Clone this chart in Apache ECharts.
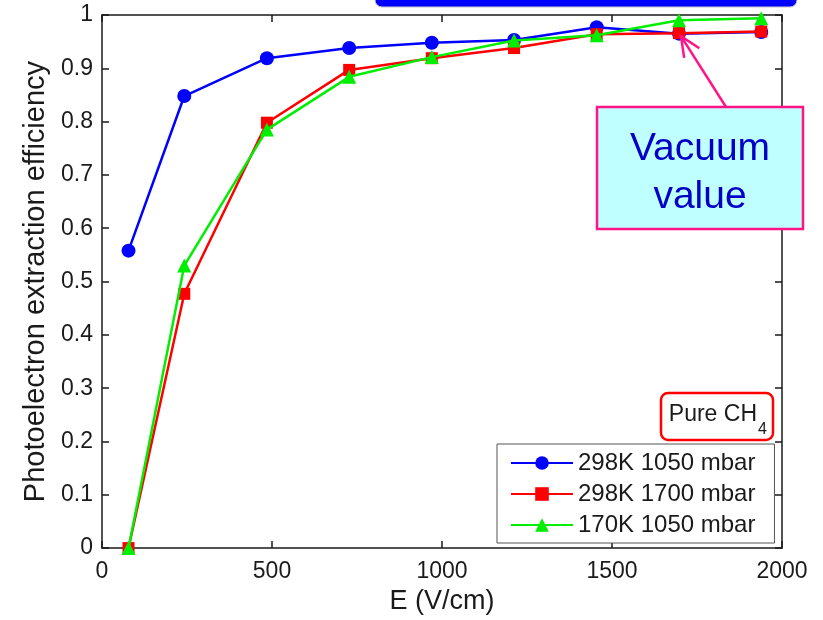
<!DOCTYPE html>
<html>
<head>
<meta charset="utf-8">
<script src="https://cdn.jsdelivr.net/npm/echarts@6/dist/echarts.min.js"></script>
<style>html,body{margin:0;padding:0;background:#fff}#c{width:823px;height:620px}</style>
</head>
<body>
<div id="c"></div>
<script>
// ---- data ----
var fieldE = [78, 242, 485, 727, 970, 1212, 1455, 1697, 1939];
var eff298K1050 = [0.558, 0.848, 0.919, 0.938, 0.948, 0.953, 0.977, 0.965, 0.968];
var eff298K1700 = [0, 0.477, 0.798, 0.897, 0.919, 0.938, 0.964, 0.966, 0.969];
var eff170K1050 = [0, 0.530, 0.785, 0.884, 0.921, 0.952, 0.962, 0.990, 0.994];
var seriesNames = ['298K 1050 mbar', '298K 1700 mbar', '170K 1050 mbar'];
var xTicks = [0, 500, 1000, 1500, 2000];
var yTicks = [0, 0.1, 0.2, 0.3, 0.4, 0.5, 0.6, 0.7, 0.8, 0.9, 1];

function pairs(xs, ys) { return xs.map(function (x, i) { return [x, ys[i]]; }); }

var FONT = 'Liberation Sans, Arial, Helvetica, sans-serif';
var chart = echarts.init(document.getElementById('c'), null, {renderer: 'canvas'});

var axisLine = {show: true, onZero: false, lineStyle: {color: '#1a1a1a', width: 1.5}};
var tick = {show: true, inside: true, length: 7, lineStyle: {color: '#1a1a1a', width: 1.5}};

chart.setOption({
  backgroundColor: '#ffffff',
  animation: false,
  grid: {left: 102, top: 15, right: 41, bottom: 67, containLabel: false},
  xAxis: [{
    type: 'value', min: xTicks[0], max: xTicks[xTicks.length - 1], interval: 500,
    position: 'bottom',
    name: 'E (V/cm)', nameLocation: 'middle', nameGap: 37,
    nameTextStyle: {fontFamily: FONT, fontSize: 27, color: '#1a1a1a'},
    axisLine: axisLine, axisTick: tick, splitLine: {show: false},
    axisLabel: {fontFamily: FONT, fontSize: 23, color: '#1a1a1a', margin: 12,
      formatter: function (v) { return String(v); }}
  }, {
    type: 'value', min: xTicks[0], max: xTicks[xTicks.length - 1], interval: 500,
    position: 'top', axisLine: axisLine, axisTick: tick, splitLine: {show: false},
    axisLabel: {show: false}
  }],
  yAxis: [{
    type: 'value', min: yTicks[0], max: yTicks[yTicks.length - 1], interval: 0.1,
    position: 'left',
    name: 'Photoelectron extraction efficiency', nameLocation: 'middle', nameGap: 52,
    nameTextStyle: {fontFamily: FONT, fontSize: 29, color: '#1a1a1a'},
    axisLine: axisLine, axisTick: tick, splitLine: {show: false},
    axisLabel: {fontFamily: FONT, fontSize: 23, color: '#1a1a1a', margin: 9,
      formatter: function (v) { return String(Math.round(v * 10) / 10); }}
  }, {
    type: 'value', min: yTicks[0], max: yTicks[yTicks.length - 1], interval: 0.1,
    position: 'right', axisLine: axisLine, axisTick: tick, splitLine: {show: false},
    axisLabel: {show: false}
  }],
  legend: {
    data: seriesNames,
    orient: 'vertical', left: 497, top: 444,
    padding: [7, 19, 6, 13], itemGap: 7, itemWidth: 62, itemHeight: 17, itemTextGap: 6,
    backgroundColor: '#ffffff', borderColor: '#555555', borderWidth: 1, borderRadius: 0,
    textStyle: {fontFamily: FONT, fontSize: 24, color: '#1a1a1a'}
  },
  series: [{
    name: seriesNames[0], type: 'line', data: pairs(fieldE, eff298K1050),
    symbol: 'circle', symbolSize: 14, z: 2,
    lineStyle: {color: '#0000ff', width: 2.5}, itemStyle: {color: '#0000ff'}
  }, {
    name: seriesNames[1], type: 'line', data: pairs(fieldE, eff298K1700),
    symbol: 'rect', symbolSize: 12, z: 3,
    lineStyle: {color: '#ff0000', width: 2.5}, itemStyle: {color: '#ff0000'}
  }, {
    name: seriesNames[2], type: 'line', data: pairs(fieldE, eff170K1050),
    symbol: 'triangle', symbolSize: 14, z: 4,
    lineStyle: {color: '#00ee00', width: 2.5}, itemStyle: {color: '#00ee00'}
  }]
});

// ---- annotations ----
var tip = chart.convertToPixel({xAxisIndex: 0, yAxisIndex: 0}, [fieldE[7], eff298K1700[7]]);
var tx = tip[0] + 2, ty = tip[1] + 3;
var sx = 733, sy = 118;
var ang = Math.atan2(sy - ty, sx - tx);
var wl = 22, wa = 0.42;
var w1 = [tx + wl * Math.cos(ang - wa), ty + wl * Math.sin(ang - wa)];
var w2 = [tx + wl * Math.cos(ang + wa), ty + wl * Math.sin(ang + wa)];

chart.setOption({
  graphic: [
    {type: 'rect', z: 100, shape: {x: 375, y: -12, width: 422, height: 19, r: 7},
      style: {fill: '#0000ff', stroke: '#c8c8c8', lineWidth: 1}},
    {type: 'polyline', z: 100, shape: {points: [[sx, sy], [tx, ty]]},
      style: {stroke: '#ff1488', lineWidth: 2.5, fill: null}},
    {type: 'polyline', z: 100, shape: {points: [w1, [tx, ty], w2]},
      style: {stroke: '#ff1488', lineWidth: 2.5, fill: null}},
    {type: 'rect', z: 101, shape: {x: 597, y: 107, width: 206, height: 122},
      style: {fill: '#c0ffff', stroke: '#ff1488', lineWidth: 2.5}},
    {type: 'text', z: 102, x: 700, y: 149,
      style: {text: 'Vacuum', fontFamily: FONT, fontSize: 39, fill: '#0000c8', align: 'center', verticalAlign: 'middle'}},
    {type: 'text', z: 102, x: 700, y: 197,
      style: {text: 'value', fontFamily: FONT, fontSize: 39, fill: '#0000c8', align: 'center', verticalAlign: 'middle'}},
    {type: 'rect', z: 100, shape: {x: 661, y: 393, width: 112, height: 47, r: 7},
      style: {fill: '#ffffff', stroke: '#ff0000', lineWidth: 2.5}},
    {type: 'text', z: 101, x: 757, y: 415,
      style: {text: 'Pure CH', fontFamily: FONT, fontSize: 23, fill: '#1a1a1a', align: 'right', verticalAlign: 'middle'}},
    {type: 'text', z: 101, x: 758, y: 430,
      style: {text: '4', fontFamily: FONT, fontSize: 16, fill: '#1a1a1a', align: 'left', verticalAlign: 'middle'}}
  ]
});
</script>
</body>
</html>
